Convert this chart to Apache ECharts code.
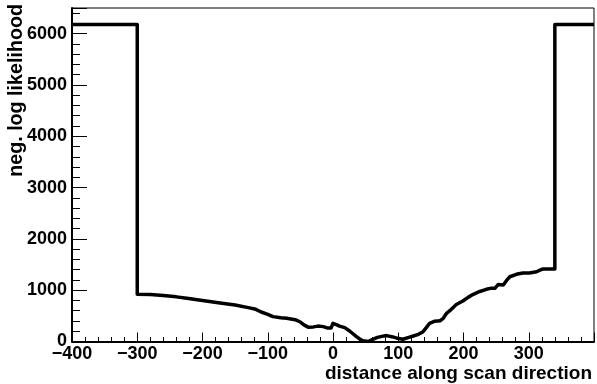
<!DOCTYPE html>
<html>
<head>
<meta charset="utf-8">
<script src="https://cdn.jsdelivr.net/npm/echarts@6/dist/echarts.min.js"></script>
<style>
  html, body { margin: 0; padding: 0; background: #fff; }
  #chart { width: 597px; height: 384px; }
</style>
</head>
<body>
<div id="chart"></div>
<script>
// Scan of the negative log likelihood along the scan direction
const distance = [
  -400, -300, -300, -280, -260, -240, -224, -200, -173, -150,
  -130, -120, -110, -100, -92, -80, -71, -58, -50, -44,
  -38, -30, -23, -15, -8, -3, 0, 5, 10, 18,
  26, 31, 36, 41, 46, 54, 61, 68, 75, 82,
  90, 97, 103, 107, 115, 123, 131, 138, 143, 148,
  156, 164, 169, 174, 179, 189, 199, 207, 215, 225,
  235, 243, 248, 253, 261, 266, 271, 281, 291, 301,
  312, 318, 322, 340, 340, 400
];
const negLogLikelihood = [
  6180, 6180, 920, 915, 895, 870, 842, 800, 750, 711,
  660, 635, 575, 530, 485, 462, 452, 425, 380, 320,
  280, 285, 300, 290, 262, 262, 355, 330, 300, 270,
  200, 146, 94, 49, 16, 0, 43, 80, 100, 115,
  94, 70, 55, 43, 75, 107, 140, 191, 270, 355,
  395, 405, 452, 549, 600, 720, 789, 860, 920, 975,
  1017, 1040, 1036, 1110, 1100, 1190, 1262, 1309, 1335, 1335,
  1360, 1395, 1413, 1413, 6180, 6180
];
const xRange = [-400, 400];
const yRange = [0, 6500];
const xTitle = 'distance along scan direction';
const yTitle = 'neg. log likelihood';

const FONT = '"Liberation Sans", Arial, Helvetica, sans-serif';
const points = distance.map((d, i) => [d, negLogLikelihood[i]]);

const chart = echarts.init(document.getElementById('chart'), null, { renderer: 'canvas' });
chart.setOption({
  animation: false,
  backgroundColor: '#fff',
  grid: {
    left: 72, top: 8, width: 522, height: 333.5,
    show: true, borderColor: '#000', borderWidth: 1, backgroundColor: 'transparent'
  },
  xAxis: {
    type: 'value', min: xRange[0], max: xRange[1], interval: 100,
    splitLine: { show: false },
    axisLine: { onZero: false, lineStyle: { color: '#000', width: 2 } },
    axisTick: { inside: true, length: 9, lineStyle: { color: '#000', width: 1 } },
    minorTick: { show: true, splitNumber: 5, length: 4.5, lineStyle: { color: '#000', width: 1 } },
    axisLabel: {
      showMaxLabel: false, margin: 4, color: '#000',
      fontFamily: FONT, fontWeight: 'bold', fontSize: 18,
      formatter: v => String(v).replace('-', '\u2212')
    }
  },
  yAxis: {
    type: 'value', min: yRange[0], max: yRange[1], interval: 1000,
    splitLine: { show: false },
    axisLine: { onZero: false, lineStyle: { color: '#000', width: 2 } },
    axisTick: { inside: true, length: 15, lineStyle: { color: '#000', width: 1 } },
    minorTick: { show: true, splitNumber: 5, length: 8, lineStyle: { color: '#000', width: 1 } },
    axisLabel: {
      showMaxLabel: false, margin: 5, color: '#000',
      fontFamily: FONT, fontWeight: 'bold', fontSize: 18,
      formatter: v => String(v)
    }
  },
  series: [{
    type: 'line',
    data: points,
    symbol: 'none',
    smooth: false,
    lineStyle: { color: '#000', width: 3.5, join: 'round' },
    z: 3
  }],
  graphic: [
    {
      type: 'text', right: 5, top: 364,
      style: { text: xTitle, font: 'bold 19px ' + FONT, fill: '#000' }
    },
    {
      type: 'text', x: 17, y: 4, rotation: Math.PI / 2,
      style: { text: yTitle, font: 'bold 19.7px ' + FONT, fill: '#000', align: 'right', verticalAlign: 'middle' }
    }
  ]
});
</script>
</body>
</html>
